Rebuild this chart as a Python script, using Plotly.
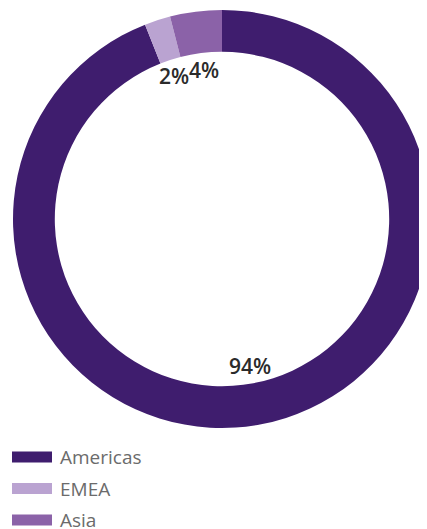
import math
import plotly.graph_objects as go

W, H = 427, 529
OFF = 8  # page body margin shifts the whole figure

regions = ["Americas", "EMEA", "Asia"]
shares = [94, 2, 4]
colors = ["#3f1d6e", "#baa3d1", "#8b62a8"]

cx, cy, R = 222 - OFF, 219 - OFF, 209

fig = go.Figure(go.Pie(
    labels=regions, values=shares,
    marker=dict(colors=colors, line=dict(width=0)),
    hole=0.80, sort=False, direction="clockwise", rotation=0,
    textinfo="none", hoverinfo="label+percent",
    domain=dict(x=[(cx - R) / W, (cx + R) / W], y=[1 - (cy + R) / H, 1 - (cy - R) / H]),
    showlegend=False,
))

# percent labels just inside the ring, at each slice's mid angle
r_lab = 150
total = sum(shares)
cum = 0
pos = []
for v in shares:
    mid = (cum + v / 2) / total * 2 * math.pi
    cum += v
    pos.append([cx + r_lab * math.sin(mid), cy - r_lab * math.cos(mid)])

# push apart neighbouring labels that would overlap
gap = 30
for a, b in zip(pos, pos[1:]):
    dx = b[0] - a[0]
    if abs(a[1] - b[1]) < 20 and abs(dx) < gap:
        s = (gap - abs(dx)) / 2 * (1 if dx >= 0 else -1)
        a[0] -= s
        b[0] += s

annotations = []
for (px, py), v in zip(pos, shares):
    annotations.append(dict(
        x=px / W, y=1 - py / H, xref="paper", yref="paper",
        xanchor="center", yanchor="middle",
        text=f"{round(v / total * 100)}%", showarrow=False,
        font=dict(family="Open Sans", size=21, color="#2b2b2b", weight=600),
    ))

# legend drawn by hand (wide swatches, loose spacing)
shapes = []
for i, (name, col) in enumerate(zip(regions, colors)):
    yc = 457 - OFF + i * 31.5
    shapes.append(dict(type="rect", xref="paper", yref="paper",
                       x0=(12 - OFF) / W, x1=(52 - OFF) / W,
                       y0=1 - (yc + 5.5) / H, y1=1 - (yc - 5.5) / H,
                       fillcolor=col, line=dict(width=0)))
    annotations.append(dict(x=(58 - OFF) / W, y=1 - yc / H, xref="paper", yref="paper",
                            text=name, showarrow=False, xanchor="left", yanchor="middle",
                            font=dict(family="Open Sans", size=19, color="#6b6b6b")))

fig.update_layout(
    width=W, height=H,
    margin=dict(l=0, r=0, t=0, b=0),
    paper_bgcolor="white", plot_bgcolor="white",
    annotations=annotations, shapes=shapes,
)

fig.write_html("out.html")
